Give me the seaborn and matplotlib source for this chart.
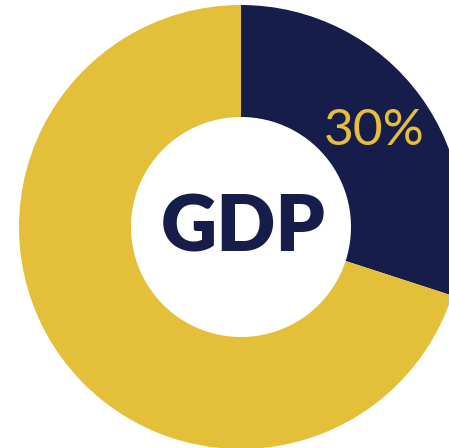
import matplotlib
matplotlib.use("Agg")
import matplotlib.pyplot as plt
import seaborn as sns

sns.set_theme(style="white")

labels = ["GDP share", "Rest"]
values = [30, 70]
colors = ["#161D4A", "#E4C03A"]
center_label = "GDP"
value_label = "30%"

fig = plt.figure(figsize=(4.49, 4.48), dpi=100)
ax = fig.add_axes([0, 0, 1, 1])
R = 222.0
ax.pie(values, colors=colors, startangle=90, counterclock=False,
       radius=1.0, wedgeprops=dict(width=1 - 110 / R, edgecolor="none", linewidth=0))
ax.set_xlim(-241 / R, (449 - 241) / R)
ax.set_ylim(-(448 - 227) / R, 227 / R)
ax.set_aspect("auto")
ax.axis("off")

ax.text(0.01, -0.01, center_label, ha="center", va="center", fontsize=56,
        fontweight="heavy", color=colors[0], family=["Lato", "DejaVu Sans"])
ax.text((374 - 241) / R, (227 - 131) / R, value_label, ha="center", va="center",
        fontsize=37, fontweight="normal", color=colors[1], family=["Lato", "DejaVu Sans"])

fig.savefig("out.png", dpi=100)
